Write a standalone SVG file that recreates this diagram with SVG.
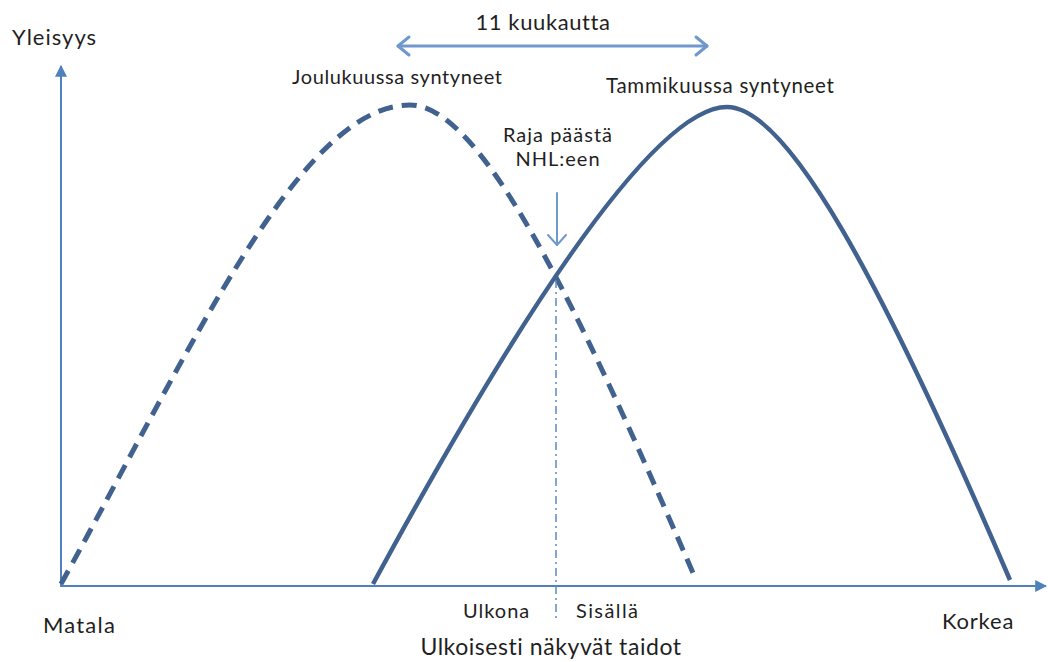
<svg xmlns="http://www.w3.org/2000/svg" width="1048" height="662" viewBox="0 0 1048 662">
<style>
text{font-family:Lato,"Liberation Sans",sans-serif;fill:#1f1f1f}
.axis{stroke:#4f81bd;stroke-width:2;fill:none}
.curve{stroke:#41628f;fill:none;stroke-width:4.5}
.dash{stroke-dasharray:15 9;stroke-width:5}
.thin{stroke:#6f98cc;fill:none;stroke-linecap:round;stroke-linejoin:round}
</style>
<defs>
<marker id="tri" viewBox="0 0 10 10" refX="9" refY="5" markerWidth="6" markerHeight="6" orient="auto-start-reverse" markerUnits="strokeWidth">
<path d="M0,0 L10,5 L0,10 z" fill="#4f81bd"/>
</marker>
</defs>
<g id="axes">
<line class="axis" x1="61" y1="586" x2="61" y2="66" marker-end="url(#tri)"/>
<line class="axis" x1="60" y1="586" x2="1046" y2="586" marker-end="url(#tri)"/>
</g>
<g id="curves">
<path id="joulukuu" class="curve dash" d="M61,584 C191,349 300,105 410,105 C480,105 573,295 693,573"/>
<path id="tammikuu" class="curve" d="M373,584 C493,363 647,107 727,107 C787,107 880,277 1010,580"/>
</g>
<g id="connectors">
<line x1="556" y1="280" x2="556" y2="622" stroke="#5b8ac6" stroke-width="1.5" stroke-dasharray="8 4 2 4"/>
<g class="thin" stroke-width="2">
<line x1="557" y1="193" x2="557" y2="245"/>
<polyline points="548,235 557,245 566,235"/>
</g>
<g class="thin" stroke-width="3">
<line x1="398" y1="46" x2="707" y2="46"/>
<polyline points="409,37 398,46 409,55"/>
<polyline points="696,37 707,46 696,55"/>
</g>
</g>
<g id="labels">
<text x="12" y="45" font-size="22" letter-spacing="1">Yleisyys</text>
<text x="543" y="30" font-size="22" letter-spacing="0.6" text-anchor="middle">11 kuukautta</text>
<text x="292" y="84" font-size="20" letter-spacing="0.6">Joulukuussa syntyneet</text>
<text x="606" y="93" font-size="20.5" letter-spacing="0.7">Tammikuussa syntyneet</text>
<text x="558" y="142" font-size="20" letter-spacing="1" text-anchor="middle">Raja päästä</text>
<text x="558" y="166" font-size="20" letter-spacing="1" text-anchor="middle">NHL:een</text>
<text x="463" y="618" font-size="20" letter-spacing="1">Ulkona</text>
<text x="576" y="618" font-size="20" letter-spacing="1.4">Sisällä</text>
<text x="43" y="633" font-size="22" letter-spacing="1.2">Matala</text>
<text x="942" y="629" font-size="22" letter-spacing="0.8">Korkea</text>
<text x="551" y="655" font-size="23" letter-spacing="0.55" text-anchor="middle">Ulkoisesti näkyvät taidot</text>
</g>
</svg>
